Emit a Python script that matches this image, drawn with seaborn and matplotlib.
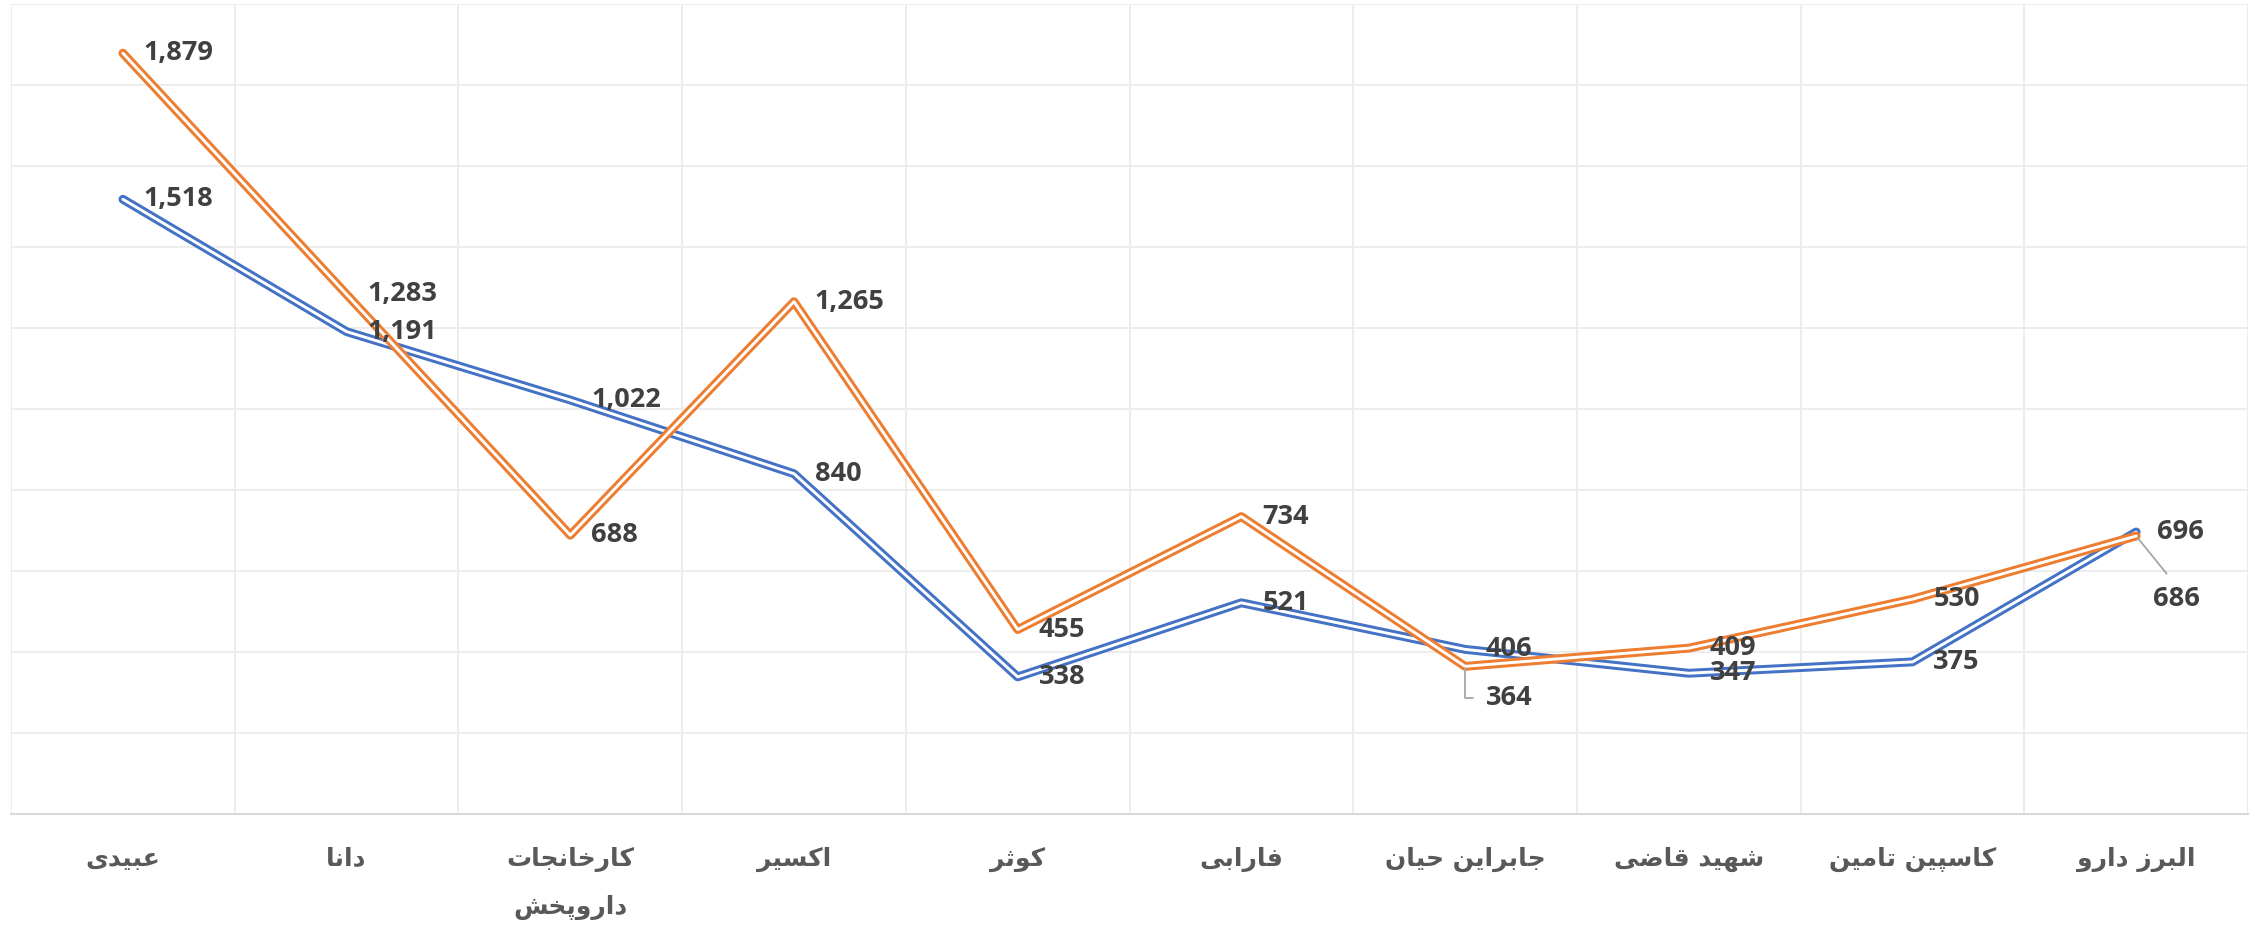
import numpy as np
import pandas as pd
import matplotlib
matplotlib.use("Agg")
import matplotlib.pyplot as plt
import matplotlib.patheffects as pe
import seaborn as sns

# categories (left to right) and the two series
categories = ["عبیدی", "دانا", "کارخانجات\nداروپخش", "اکسیر", "کوثر",
              "فارابی", "جابراین حیان", "شهید قاضی", "کاسپین تامین", "البرز دارو"]
blue_values = [1518, 1191, 1022, 840, 338, 521, 406, 347, 375, 696]
orange_values = [1879, 1283, 688, 1265, 455, 734, 364, 409, 530, 686]

BLUE = "#4472C4"
ORANGE = "#ED7D31"

# matplotlib has no Arabic shaping, so map letters to presentation forms
# (isolated, final, initial, medial); None = letter does not join forward
FORMS = {
    "ا": (0xFE8D, 0xFE8E, None, None),
    "ب": (0xFE8F, 0xFE90, 0xFE91, 0xFE92),
    "پ": (0xFB56, 0xFB57, 0xFB58, 0xFB59),
    "ت": (0xFE95, 0xFE96, 0xFE97, 0xFE98),
    "ث": (0xFE99, 0xFE9A, 0xFE9B, 0xFE9C),
    "ج": (0xFE9D, 0xFE9E, 0xFE9F, 0xFEA0),
    "ح": (0xFEA1, 0xFEA2, 0xFEA3, 0xFEA4),
    "خ": (0xFEA5, 0xFEA6, 0xFEA7, 0xFEA8),
    "د": (0xFEA9, 0xFEAA, None, None),
    "ر": (0xFEAD, 0xFEAE, None, None),
    "ز": (0xFEAF, 0xFEB0, None, None),
    "س": (0xFEB1, 0xFEB2, 0xFEB3, 0xFEB4),
    "ش": (0xFEB5, 0xFEB6, 0xFEB7, 0xFEB8),
    "ض": (0xFEBD, 0xFEBE, 0xFEBF, 0xFEC0),
    "ع": (0xFEC9, 0xFECA, 0xFECB, 0xFECC),
    "ف": (0xFED1, 0xFED2, 0xFED3, 0xFED4),
    "ق": (0xFED5, 0xFED6, 0xFED7, 0xFED8),
    "ک": (0xFB8E, 0xFB8F, 0xFB90, 0xFB91),
    "ل": (0xFEDD, 0xFEDE, 0xFEDF, 0xFEE0),
    "م": (0xFEE1, 0xFEE2, 0xFEE3, 0xFEE4),
    "ن": (0xFEE5, 0xFEE6, 0xFEE7, 0xFEE8),
    "ه": (0xFEE9, 0xFEEA, 0xFEEB, 0xFEEC),
    "و": (0xFEED, 0xFEEE, None, None),
    "ی": (0xFBFC, 0xFBFD, 0xFBFE, 0xFBFF),
}


def shape_line(text):
    text = text.replace("ي", "ی").replace("ك", "ک")
    out = []
    for i, c in enumerate(text):
        if c not in FORMS:
            out.append(c)
            continue
        prev = text[i - 1] if i > 0 else None
        nxt = text[i + 1] if i + 1 < len(text) else None
        join_prev = prev in FORMS and FORMS[prev][2] is not None
        join_next = nxt in FORMS and FORMS[c][2] is not None
        iso, fin, ini, med = FORMS[c]
        if join_prev and join_next:
            g = med
        elif join_prev:
            g = fin
        elif join_next:
            g = ini
        else:
            g = iso
        out.append(chr(g))
    return "".join(reversed(out))


def shape(text):
    return "\n".join(shape_line(l) for l in text.split("\n"))


sns.set_style("white")

df = pd.DataFrame({
    "pos": np.arange(len(categories)),
    "blue": blue_values,
    "orange": orange_values,
})

fig, ax = plt.subplots(figsize=(22.55, 9.31), dpi=100)
fig.subplots_adjust(left=0.0049, right=0.9969, top=0.9955, bottom=0.126)

# double ("compound") lines: coloured stroke with a thin white core
for col, c in [("blue", BLUE), ("orange", ORANGE)]:
    sns.lineplot(data=df, x="pos", y=col, ax=ax, color=c, lw=6.4,
                 path_effects=[pe.Stroke(linewidth=6.4, foreground=c),
                               pe.Stroke(linewidth=2.1, foreground="white")])

ax.set_xlim(-0.5, len(categories) - 0.5)
ax.set_ylim(0, 2000)
ax.set_yticks(np.arange(0, 2001, 200))
ax.set_yticklabels([])
ax.set_xticks(np.arange(len(categories)))
ax.set_xticks(np.arange(len(categories) + 1) - 0.5, minor=True)
ax.set_xticklabels([shape(c) for c in categories], fontsize=18,
                   fontweight="bold", color="#595959", family="DejaVu Sans",
                   linespacing=2.2)
ax.tick_params(axis="x", which="both", length=0, pad=24)
ax.tick_params(axis="y", length=0)
ax.set_xlabel("")
ax.set_ylabel("")

ax.grid(True, axis="y", color="#EDEDED", lw=1.4)
ax.grid(True, axis="x", which="minor", color="#EDEDED", lw=1.4)
ax.grid(False, axis="x", which="major")
for s in ["top", "left", "right"]:
    ax.spines[s].set_visible(False)
ax.spines["bottom"].set_color("#D9D9D9")
ax.spines["bottom"].set_linewidth(1.5)

lab = dict(fontsize=19.5, fontweight="bold", family="Open Sans", color="#404040",
           va="center", ha="left", textcoords="offset points")

for i, v in enumerate(blue_values):
    ax.annotate(f"{v:,}", (i, v), xytext=(15, 0), **lab)

for i, v in enumerate(orange_values):
    if i == 6:
        ax.annotate(f"{v:,}", (i, v), xytext=(15, -23),
                    arrowprops=dict(arrowstyle="-", color="#A6A6A6", lw=1.3,
                                    connectionstyle="angle,angleA=0,angleB=90,rad=0",
                                    relpos=(0, 0.5), shrinkA=7, shrinkB=1),
                    **lab)
    elif i == 9:
        ax.annotate(f"{v:,}", (i, v), xytext=(12, -45),
                    arrowprops=dict(arrowstyle="-", color="#A6A6A6", lw=1.3,
                                    relpos=(0.5, 1), shrinkA=8, shrinkB=2),
                    **lab)
    else:
        ax.annotate(f"{v:,}", (i, v), xytext=(15, 0), **lab)

fig.savefig("out.png", dpi=100)
